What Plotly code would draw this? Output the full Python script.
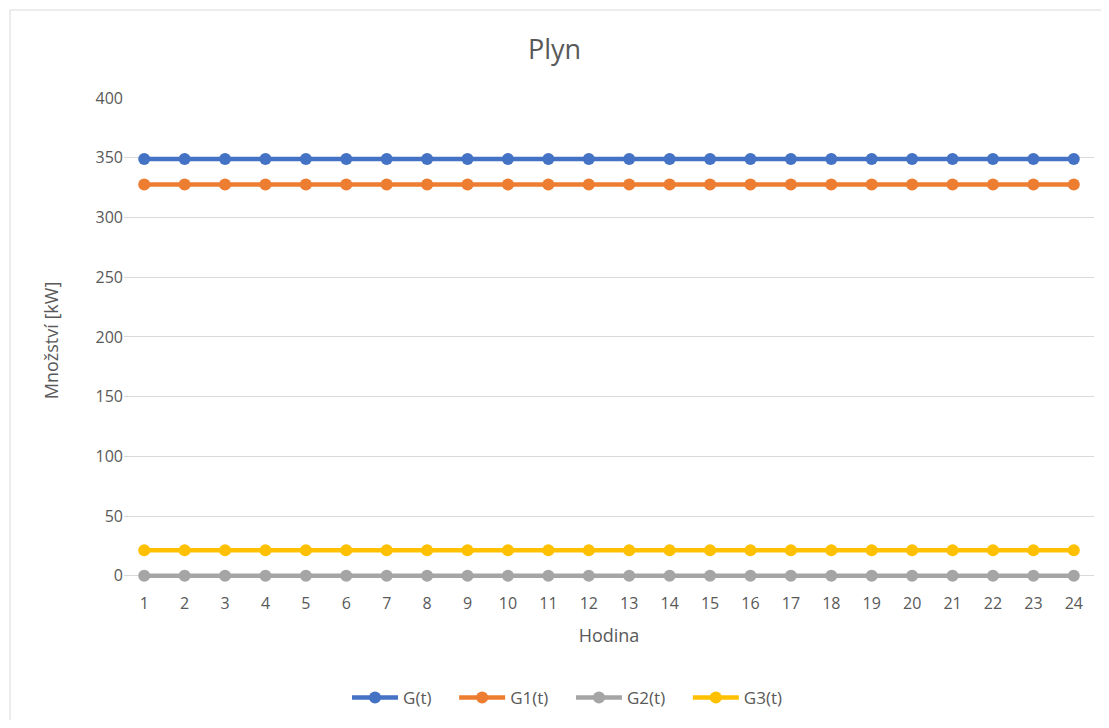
import plotly.graph_objects as go

hours = list(range(1, 25))
g_t = [349] * 24
g1_t = [327.5] * 24
g2_t = [0] * 24
g3_t = [21.5] * 24

series = [
    ("G(t)", g_t, "#4472C4"),
    ("G1(t)", g1_t, "#ED7D31"),
    ("G2(t)", g2_t, "#A5A5A5"),
    ("G3(t)", g3_t, "#FFC000"),
]

OFF = 8  # page body margin
W, H = 1109 - 2 * OFF, 728 - 2 * OFF
PX = 478 / 400  # pixels per unit
YMIN = -6
L, T = 124 - OFF, 98 - OFF
pw = 970
ph = round((400 - YMIN) * PX)
R, B = W - L - pw, H - T - ph
bottom_page = 98 + ph

fig = go.Figure()
for name, vals, col in series:
    fig.add_trace(go.Scatter(
        x=[str(h) for h in hours], y=vals, name=name + "    ", mode="lines+markers",
        line=dict(color=col, width=4.5), marker=dict(color=col, size=12),
        cliponaxis=False,
    ))

font = "Open Sans, Liberation Sans, sans-serif"
fig.update_layout(
    width=W, height=H,
    margin=dict(l=L, r=R, t=T, b=B, autoexpand=False),
    paper_bgcolor="white", plot_bgcolor="white",
    font=dict(family=font, color="#595959", size=16),
    title=dict(text="Plyn", x=0.5, xanchor="center", y=1 - (50 - OFF) / H, yanchor="middle",
               font=dict(size=27, color="#595959")),
    xaxis=dict(type="category", range=[-0.5, len(hours) - 0.5], showgrid=False,
               ticks="", showline=False, automargin=False, ticklabelstandoff=9,
               title=dict(text="Hodina", font=dict(size=18), standoff=16),
               tickfont=dict(size=16)),
    yaxis=dict(range=[YMIN, 400], tickvals=list(range(0, 401, 50)), showgrid=True,
               gridcolor="#D9D9D9", gridwidth=1, zeroline=True, zerolinecolor="#D9D9D9",
               zerolinewidth=1, ticks="", showline=False, automargin=False,
               title=dict(text="Množství [kW]", font=dict(size=18), standoff=32),
               tickfont=dict(size=16)),
    legend=dict(orientation="h", x=0.466, xanchor="center", y=-(698 - bottom_page) / ph,
                yanchor="middle", font=dict(size=17), itemwidth=46,
                traceorder="normal"),
    showlegend=True,
)
fig.add_shape(type="rect", xref="paper", yref="paper",
              x0=(10 - 124) / pw, x1=(1107 - 124) / pw,
              y0=-(727 - bottom_page) / ph, y1=1 + (98 - 10) / ph,
              line=dict(color="#D9D9D9", width=1), layer="below")
fig.write_html("out.html")
